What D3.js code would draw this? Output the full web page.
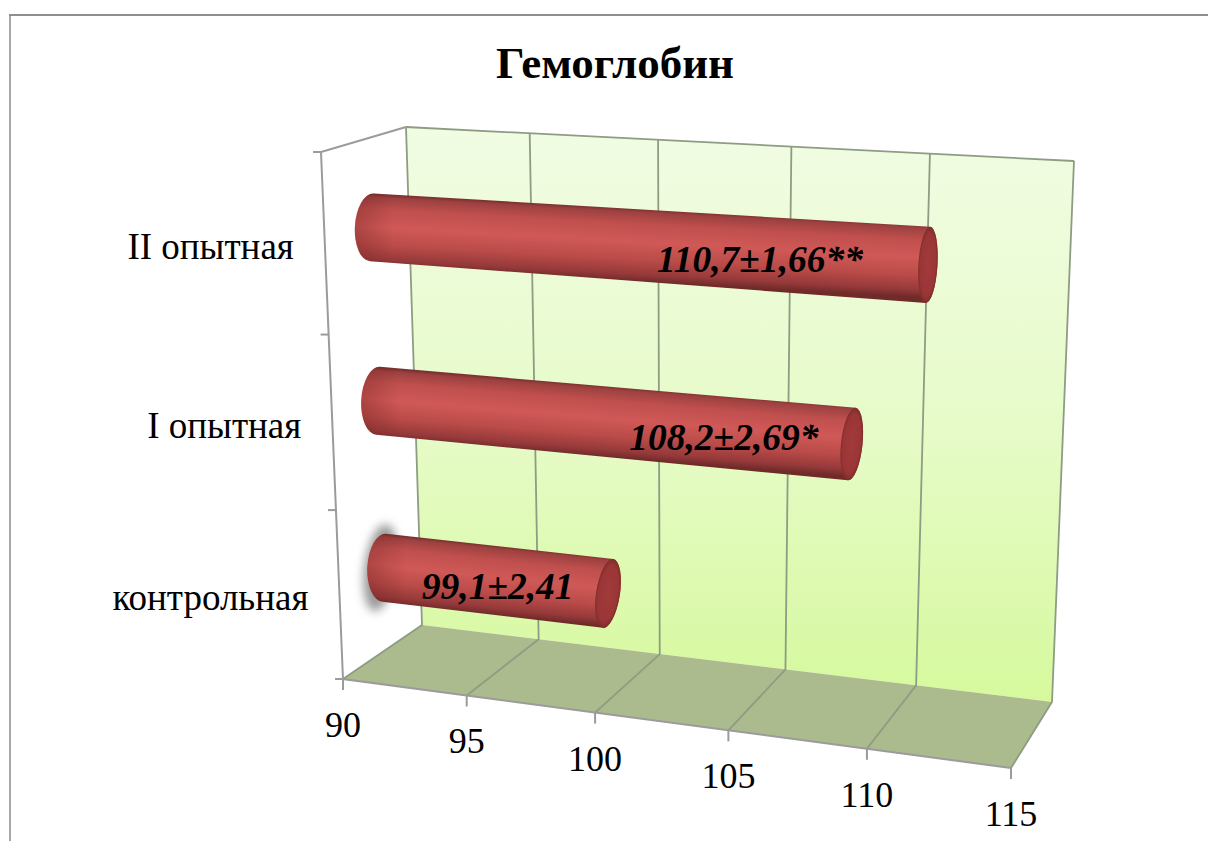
<!DOCTYPE html>
<html>
<head>
<meta charset="utf-8">
<script src="https://cdn.jsdelivr.net/npm/d3@7/dist/d3.min.js"></script>
<style>
  html, body { margin: 0; padding: 0; background: #fff; }
  svg { display: block; }
  text { font-family: "Liberation Serif", serif; fill: #000; }
</style>
</head>
<body>
<svg id="chart" width="1208" height="841"></svg>
<script>
// Hemoglobin by group, mean ± error
const chartTitle = "Гемоглобин";
const categories = ["контрольная", "I опытная", "II опытная"];
const means = [99.1, 108.2, 110.7];
const errors = [2.41, 2.69, 1.66];
const marks = ["", "*", "**"];
const valueTicks = [90, 95, 100, 105, 110, 115];

const W = 1208, H = 841;
const svg = d3.select("#chart");
const defs = svg.append("defs");

// Plot box corners on screen: floor/top, front/back, low/high value end
const box = {
  floorFront: [[343, 679], [1011, 768]],
  floorBack:  [[422, 625], [1052, 702]],
  topFront:   [[321, 152], [1041, 196]],
  topBack:    [[406, 127], [1074, 161]]
};

// Linear scales for value and category, then a foreshortening step
const xLinear = d3.scaleLinear().domain([90, 115]).range([0, 1]);
const band = d3.scaleBand().domain(categories).range([0, 1]);
const foreshorten = (t, k) => t / (1 + k * (1 - t));
const lerp = (a, b, t) => [a[0] + (b[0] - a[0]) * t, a[1] + (b[1] - a[1]) * t];

// Project (value, depth, height) to the screen
function project(value, depth, height) {
  const t = foreshorten(xLinear(value), 0.1);
  const h = foreshorten(height, 0.06);
  const floor = lerp(lerp(box.floorFront[0], box.floorFront[1], t),
                     lerp(box.floorBack[0], box.floorBack[1], t), depth);
  const top = lerp(lerp(box.topFront[0], box.topFront[1], t),
                   lerp(box.topBack[0], box.topBack[1], t), depth);
  return lerp(floor, top, h);
}

const line = d3.line();
const domainEnds = xLinear.domain();

// Outer chart frame
svg.append("path")
  .attr("d", line([[10, H], [10, 15]]))
  .attr("fill", "none").attr("stroke", "#a8a8a8").attr("stroke-width", 2);
svg.append("path")
  .attr("d", line([[9, 15], [W, 15]]))
  .attr("fill", "none").attr("stroke", "#8e8e8e").attr("stroke-width", 2);

// Back wall gradient
const wallGrad = defs.append("linearGradient").attr("id", "wallGrad")
  .attr("x1", 0).attr("y1", 0).attr("x2", 0).attr("y2", 1);
wallGrad.append("stop").attr("offset", 0).attr("stop-color", "#f1fce3");
wallGrad.append("stop").attr("offset", 0.5).attr("stop-color", "#e7fbca");
wallGrad.append("stop").attr("offset", 1).attr("stop-color", "#d6f99d");

svg.append("path")
  .attr("d", line([project(90, 1, 1), project(115, 1, 1), project(115, 1, 0), project(90, 1, 0)]) + "Z")
  .attr("fill", "url(#wallGrad)");

svg.append("path")
  .attr("d", line([project(90, 0, 0), project(115, 0, 0), project(115, 1, 0), project(90, 1, 0)]) + "Z")
  .attr("fill", "#abbb8e");

// Wall and floor gridlines
const gridColor = "#8d9c83";
svg.append("g").selectAll("path").data(valueTicks).join("path")
  .attr("d", v => line([project(v, 0, 0), project(v, 1, 0), project(v, 1, 1)]))
  .attr("fill", "none").attr("stroke", gridColor).attr("stroke-width", 1.8);

svg.append("path")
  .attr("d", line([project(115, 1, 1), project(90, 1, 1)]))
  .attr("fill", "none").attr("stroke", gridColor).attr("stroke-width", 1.8);

// Front axes and the left side edge
const axisColor = "#9b9b9b";
svg.append("path")
  .attr("d", line([project(90, 1, 1), project(90, 0, 1), project(90, 0, 0), project(115, 0, 0)]))
  .attr("fill", "none").attr("stroke", axisColor).attr("stroke-width", 2);

svg.append("g").selectAll("path").data(valueTicks).join("path")
  .attr("d", v => { const p = project(v, 0, 0); return line([p, [p[0], p[1] + 11]]); })
  .attr("stroke", axisColor).attr("stroke-width", 2);

const catEdges = d3.range(categories.length + 1).map(i => i / categories.length);
svg.append("g").selectAll("path").data(catEdges).join("path")
  .attr("d", h => { const p = project(90, 0, h); return line([[p[0] - 8, p[1]], p]); })
  .attr("stroke", axisColor).attr("stroke-width", 2);

// Value tick labels
svg.append("g").selectAll("text").data(valueTicks).join("text")
  .attr("x", v => project(v, 0, 0)[0])
  .attr("y", v => project(v, 0, 0)[1] + 58)
  .attr("text-anchor", "middle").attr("font-size", 36)
  .text(d => d);

// Category labels
svg.append("g").selectAll("text").data(categories).join("text")
  .attr("x", c => project(90, 0, band(c) + band.bandwidth() / 2)[0] - 31)
  .attr("y", c => project(90, 0, band(c) + band.bandwidth() / 2)[1] + 15)
  .attr("text-anchor", "end").attr("font-size", 37)
  .text(d => d);

// Title
svg.append("text").attr("x", 615).attr("y", 78)
  .attr("text-anchor", "middle").attr("font-size", 45).attr("font-weight", "bold")
  .text(chartTitle);

// Cylinders sit a little past the middle of the depth axis
const barDepth = 0.56;
const barStops = [
  [0, "#7d3230"], [0.04, "#9c4140"], [0.2, "#bf4f4d"], [0.45, "#d05957"],
  [0.7, "#b94b48"], [0.9, "#96393a"], [1, "#702b29"]
];

// Soft grey halo at the start of the shortest bar
const halo = defs.append("filter").attr("id", "halo")
  .attr("x", "-80%").attr("y", "-30%").attr("width", "260%").attr("height", "160%");
halo.append("feGaussianBlur").attr("stdDeviation", 5);

const barRows = categories.map((c, i) => ({
  c, i, mean: means[i], err: errors[i], mark: marks[i],
  h: band(c) + band.bandwidth() / 2
}));

const firstRow = barRows[0];
const haloAt = project(domainEnds[0], barDepth, firstRow.h);
svg.append("ellipse")
  .attr("cx", haloAt[0] - 4).attr("cy", haloAt[1])
  .attr("rx", 16).attr("ry", 44)
  .attr("transform", `rotate(8 ${haloAt[0] - 4} ${haloAt[1]})`)
  .attr("fill", "#9a9b9b").attr("filter", "url(#halo)");

barRows.forEach(d => {
  const a = project(domainEnds[0], barDepth, d.h);
  const b = project(d.mean, barDepth, d.h);
  const ryA = 34, ryB = 34 + 5 * foreshorten(d.h, 0.06);
  const rxA = 17, rxB = 12.5 - 3.6 * foreshorten(d.h, 0.06);
  const tiltA = 3;
  const tiltB = 10 - 8 * foreshorten(d.h, 0.06);

  // Rim points of an end cap, leaning with the view
  const rim = (c, ry, deg, s) => {
    const r = deg * Math.PI / 180;
    return [c[0] + s * ry * Math.sin(r), c[1] - s * ry * Math.cos(r)];
  };
  const aTop = rim(a, ryA, tiltA, 1), aBot = rim(a, ryA, tiltA, -1);
  const bTop = rim(b, ryB, tiltB, 1), bBot = rim(b, ryB, tiltB, -1);

  const id = "barGrad" + d.i;
  const midTop = lerp(aTop, bTop, 0.5), midBot = lerp(aBot, bBot, 0.5);
  const g = defs.append("linearGradient").attr("id", id)
    .attr("gradientUnits", "userSpaceOnUse")
    .attr("x1", midTop[0]).attr("y1", midTop[1])
    .attr("x2", midBot[0]).attr("y2", midBot[1]);
  barStops.forEach(s => g.append("stop").attr("offset", s[0]).attr("stop-color", s[1]));

  const outline = `M${aTop}` +
    `A${rxA},${ryA} ${tiltA} 0 0 ${aBot}` +
    `L${bBot}` +
    `A${rxB},${ryB} ${tiltB} 0 0 ${bTop}` +
    `Z`;
  svg.append("path").attr("d", outline).attr("fill", `url(#${id})`);

  // Darkening toward the rounded start of the bar
  const shadeId = "barShade" + d.i;
  const sg = defs.append("linearGradient").attr("id", shadeId)
    .attr("gradientUnits", "userSpaceOnUse")
    .attr("x1", a[0] - rxA).attr("y1", 0).attr("x2", a[0] + 22).attr("y2", 0);
  sg.append("stop").attr("offset", 0).attr("stop-color", "#6f2220").attr("stop-opacity", 0.35);
  sg.append("stop").attr("offset", 1).attr("stop-color", "#6f2220").attr("stop-opacity", 0);
  svg.append("path").attr("d", outline).attr("fill", `url(#${shadeId})`);

  // Visible end cap
  const capId = "barCap" + d.i;
  const cg = defs.append("radialGradient").attr("id", capId);
  cg.append("stop").attr("offset", 0).attr("stop-color", "#a23a3a");
  cg.append("stop").attr("offset", 0.8).attr("stop-color", "#9b3636");
  cg.append("stop").attr("offset", 1).attr("stop-color", "#7e2e2c");
  svg.append("ellipse")
    .attr("cx", b[0]).attr("cy", b[1])
    .attr("rx", rxB).attr("ry", ryB)
    .attr("transform", `rotate(${tiltB} ${b[0]} ${b[1]})`)
    .attr("fill", `url(#${capId})`);
});

// Value labels, placed along each bar
const labelAlong = [0.507, 0.73, 0.698];
const decimal = (v, digits) => v.toFixed(digits).replace(".", ",");
svg.append("g").selectAll("text").data(barRows).join("text")
  .attr("x", d => {
    const a = project(domainEnds[0], barDepth, d.h), b = project(d.mean, barDepth, d.h);
    return a[0] + (b[0] - a[0]) * labelAlong[d.i];
  })
  .attr("y", d => {
    const a = project(domainEnds[0], barDepth, d.h), b = project(d.mean, barDepth, d.h);
    return a[1] + (b[1] - a[1]) * labelAlong[d.i] + 18;
  })
  .attr("text-anchor", "middle")
  .attr("font-size", 37.5).attr("font-weight", "bold").attr("font-style", "italic")
  .text(d => `${decimal(d.mean, 1)}±${decimal(d.err, 2)}${d.mark}`);
</script>
</body>
</html>
